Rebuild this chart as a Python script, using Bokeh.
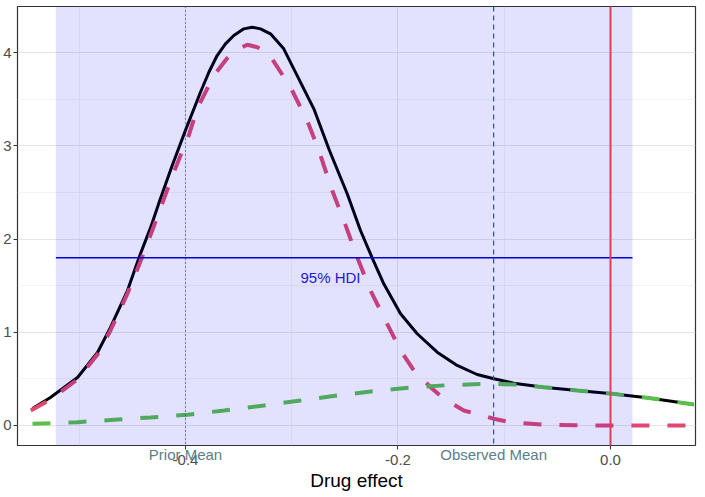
from bokeh.plotting import figure
from bokeh.models import (Range1d, FixedTicker, PrintfTickFormatter, BoxAnnotation, Span,
                          LinearAxis)
from bokeh.core.properties import value
from bokeh.embed import file_html
from bokeh.resources import INLINE

# ---- data ----
posterior_x = [-0.5440, -0.5271, -0.5016, -0.4828, -0.4706, -0.4546, -0.4436, -0.4327, -0.4242,
               -0.4125, -0.3995, -0.3859, -0.3780, -0.3702, -0.3624, -0.3545, -0.3451, -0.3372,
               -0.3294, -0.3200, -0.3075, -0.2949, -0.2792, -0.2645, -0.2478, -0.2353, -0.2243,
               -0.2134, -0.1976, -0.1819, -0.1631, -0.1443, -0.1255, -0.1098, -0.0910, -0.0628,
               -0.0313, 0.0016, 0.0345, 0.0784]
posterior_y = [0.182, 0.300, 0.515, 0.783, 1.052, 1.448, 1.806, 2.128, 2.414,
               2.790, 3.183, 3.576, 3.790, 3.970, 4.095, 4.185, 4.256, 4.274,
               4.256, 4.203, 4.042, 3.755, 3.398, 2.951, 2.486, 2.092, 1.799,
               1.520, 1.198, 0.984, 0.786, 0.644, 0.547, 0.501, 0.454, 0.411,
               0.376, 0.340, 0.297, 0.225]

prior_x = [-0.5456, -0.5271, -0.5016, -0.4828, -0.4706, -0.4546, -0.4428, -0.4320, -0.4226,
           -0.4122, -0.4047, -0.3994, -0.3890, -0.3734, -0.3608, -0.3529, -0.3419, -0.3325,
           -0.3216, -0.3012, -0.2855, -0.2745, -0.2619, -0.2510, -0.2384, -0.2259, -0.2102,
           -0.1976, -0.1851, -0.1694, -0.1569, -0.1381, -0.1098, -0.0941, -0.0628, -0.0300,
           0.0000, 0.0400, 0.0784]
prior_y = [0.161, 0.279, 0.494, 0.762, 1.019, 1.416, 1.749, 2.071, 2.361,
           2.682, 2.897, 3.023, 3.398, 3.755, 3.940, 4.024, 4.085, 4.060,
           3.988, 3.630, 3.273, 2.951, 2.521, 2.200, 1.806, 1.448, 1.091,
           0.805, 0.590, 0.411, 0.286, 0.161, 0.072, 0.035, 0.008, 0.001,
           0.000, 0.000, 0.000]

likelihood_x = [-0.5440, -0.5016, -0.4671, -0.4327, -0.3981, -0.3636, -0.3263, -0.2918, -0.2572,
                -0.2228, -0.1882, -0.1537, -0.1176, -0.0910, -0.0628, -0.0313, 0.0016, 0.0345, 0.0784]
likelihood_y = [0.018, 0.035, 0.061, 0.086, 0.115, 0.161, 0.215, 0.268, 0.322,
                0.368, 0.408, 0.432, 0.447, 0.440, 0.411, 0.376, 0.340, 0.297, 0.225]

prior_mean = -0.4
observed_mean = -0.11
null_value = 0.0
hdi_low = -0.522
hdi_high = 0.0207
hdi_height = 1.80
hdi_label = "95% HDI"
mean_labels = ["Prior Mean", "Observed Mean"]

x_ticks = [-0.4, -0.2, 0.0]
x_minor = [-0.5, -0.3, -0.1]
y_ticks = [0, 1, 2, 3, 4]
y_minor = [0.5, 1.5, 2.5, 3.5]

FONT = "Liberation Sans"
PINK = "#E0486F"
GREEN = "#5CBF4C"
RED = "#E23C58"
LABEL_COL = "#5A7E8A"

p = figure(width=700, height=497,
           x_range=Range1d(-0.5581, 0.0800), y_range=Range1d(-0.215, 4.496),
           output_backend="svg", toolbar_location=None,
           min_border_left=0, min_border_right=5, min_border_top=6, min_border_bottom=52)

p.background_fill_color = "white"
p.border_fill_color = "white"
p.outline_line_color = "#333333"
p.outline_line_width = 1.2

xa = p.xaxis[0]
ya = p.yaxis[0]
xa.ticker = FixedTicker(ticks=x_ticks, minor_ticks=x_minor)
ya.ticker = FixedTicker(ticks=y_ticks, minor_ticks=y_minor)
xa.formatter = PrintfTickFormatter(format="%.1f")
ya.formatter = PrintfTickFormatter(format="%d")

for ax in (xa, ya):
    ax.axis_line_color = None
    ax.major_tick_line_color = "#333333"
    ax.major_tick_out = 4
    ax.major_tick_in = 0
    ax.minor_tick_line_color = None
    ax.major_label_text_font = FONT
    ax.major_label_text_font_size = "15px"
    ax.major_label_text_color = "#4D4D4D"
xa.major_label_standoff = 5
ya.major_label_standoff = 2

for g in (p.xgrid, p.ygrid):
    g.grid_line_color = "#E6E6E6"
    g.grid_line_width = 1
    g.minor_grid_line_color = "#EBEBEB"
    g.minor_grid_line_width = 0.6

# second axis carrying the mean labels (overlapping the tick labels) and the title
mean_axis = LinearAxis(
    ticker=FixedTicker(ticks=[prior_mean, observed_mean], minor_ticks=[]),
    major_label_overrides={prior_mean: mean_labels[0], observed_mean: mean_labels[1]},
    axis_line_color=None, major_tick_line_color=None, minor_tick_line_color=None,
    major_label_standoff=-28,
    major_label_text_font=FONT, major_label_text_font_size="15px",
    major_label_text_color=LABEL_COL,
    axis_label="Drug effect", axis_label_text_font=FONT, axis_label_text_font_size="19px",
    axis_label_text_font_style="normal", axis_label_text_color="black",
    axis_label_standoff=4)
p.add_layout(mean_axis, "below")

p.line(posterior_x, posterior_y, line_color="black", line_width=3)
p.line(prior_x, prior_y, line_color=PINK, line_width=4, line_dash="18 18")
p.line(likelihood_x, likelihood_y, line_color=GREEN, line_width=4, line_dash="18 18")

p.add_layout(Span(location=prior_mean, dimension="height", line_color="#404058",
                  line_dash="1 3", line_width=1.2))
p.add_layout(Span(location=observed_mean, dimension="height", line_color="#3F5C7E",
                  line_dash="5 4", line_width=1.2))

p.segment(x0=[hdi_low], y0=[hdi_height], x1=[hdi_high], y1=[hdi_height],
          line_color="#0000CD", line_width=1.3)
p.text(x=[-0.2635], y=[1.59], text=[hdi_label], text_align="center", text_baseline="middle",
       text_font=value(FONT), text_font_size="15px", text_color="#2424CC")

p.add_layout(BoxAnnotation(left=hdi_low, right=hdi_high, fill_color="#0000FF",
                           fill_alpha=0.115, line_color=None))

p.add_layout(Span(location=null_value, dimension="height", line_color=RED, line_width=2))

open("out.html", "w").write(file_html(p, INLINE))
